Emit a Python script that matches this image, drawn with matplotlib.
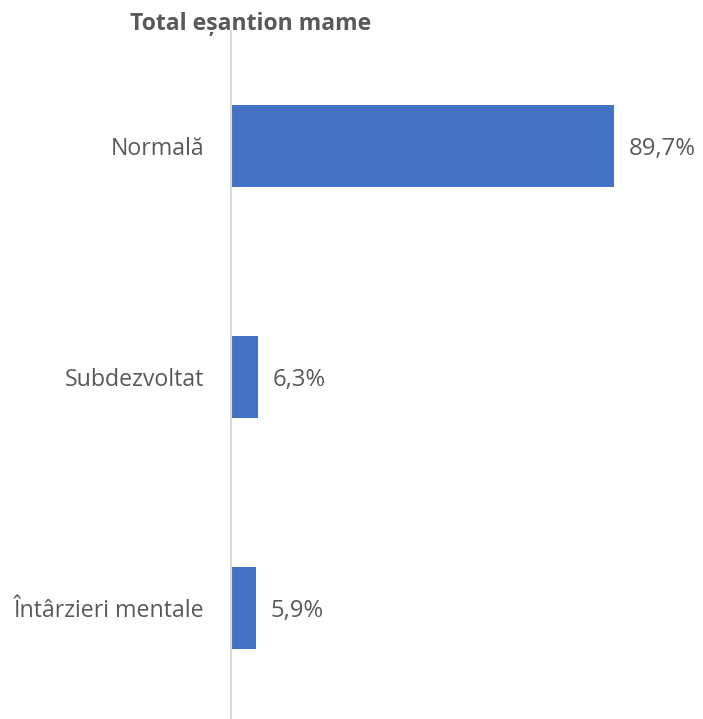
import matplotlib.pyplot as plt

# data
categories = ['Normală', 'Subdezvoltat', 'Întârzieri mentale']
values = [89.7, 6.3, 5.9]
value_labels = ['89,7%', '6,3%', '5,9%']

plt.rcParams['font.family'] = ['Open Sans', 'DejaVu Sans']

fig = plt.figure(figsize=(7.03, 7.19), dpi=100)
ax = fig.add_axes([231 / 703, -4.5 / 719, 427 / 703, 693 / 719])

ypos = list(range(len(categories)))
ax.barh(ypos, values, height=0.355, color='#4472C4')
ax.set_xlim(0, 100)
ax.set_ylim(len(categories) - 0.5, -0.5)

for y, v, lab in zip(ypos, values, value_labels):
    ax.annotate(lab, (v, y), xytext=(10.5, -2), textcoords='offset points',
                va='center', ha='left', fontsize=17.2, color='#595959')

ax.set_yticks(ypos)
ax.set_yticklabels(categories, fontsize=16.7, color='#595959')
ax.tick_params(axis='y', length=0, pad=19)
ax.set_xticks([])

for s in ['top', 'right', 'bottom']:
    ax.spines[s].set_visible(False)
ax.spines['left'].set_color('#D9D9D9')
ax.spines['left'].set_linewidth(1.5)

fig.text(251 / 703, 1 - 24 / 719, 'Total eșantion mame', ha='center', va='center',
         fontsize=16.6, fontweight='bold', color='#595959')

fig.savefig('out.png', dpi=100)
